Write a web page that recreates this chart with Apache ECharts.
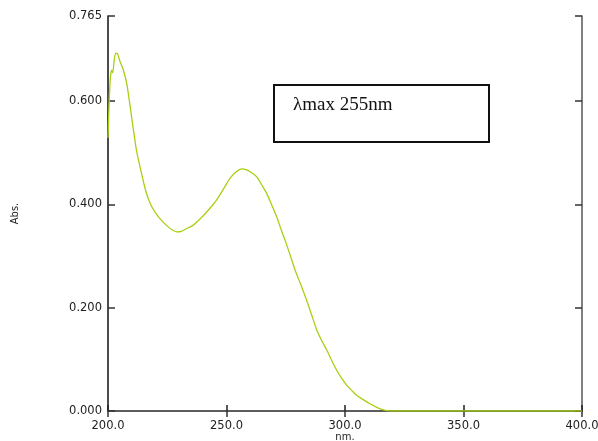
<!DOCTYPE html>
<html>
<head>
<meta charset="utf-8">
<script src="https://cdn.jsdelivr.net/npm/echarts@6/dist/echarts.min.js"></script>
<style>
  html, body { margin: 0; padding: 0; background: #fff; }
  #main { width: 598px; height: 441px; }
</style>
</head>
<body>
<div id="main"></div>
<script>
// 波长 (nm) 与吸光度
var wavelength = [200, 200.5, 201, 201.5, 202, 202.5, 203.2, 204, 205, 206.5, 208, 210, 212, 214, 216, 218, 220, 222,
  224.8, 227, 229, 231, 233, 236, 238.8, 241, 244, 246, 249, 251.5, 254, 256.5, 258.5, 260.5, 262.7, 265, 267, 269,
  271.2, 273, 275, 277, 279, 281.5, 284, 286, 288, 290, 292.3, 294.5, 296.5, 298.5, 300.7, 303, 305, 308, 310.5,
  313, 315.5, 319, 340, 400];
var absorbance = [0.529, 0.600, 0.645, 0.660, 0.655, 0.675, 0.693, 0.692, 0.678, 0.660, 0.632, 0.568, 0.505, 0.463,
  0.425, 0.400, 0.384, 0.372, 0.359, 0.351, 0.347, 0.348, 0.353, 0.360, 0.372, 0.382, 0.398, 0.410, 0.432, 0.451,
  0.463, 0.469, 0.467, 0.462, 0.454, 0.437, 0.421, 0.400, 0.376, 0.352, 0.327, 0.300, 0.272, 0.243, 0.212, 0.185,
  0.158, 0.138, 0.118, 0.097, 0.079, 0.064, 0.050, 0.039, 0.030, 0.021, 0.014, 0.008, 0.003, 0.000, 0.000, 0.000];

var xTicks = { min: 200, max: 400, interval: 50 };
var yTicks = { min: 0, max: 0.765, interval: 0.2 };
var noteText = 'λmax 255nm';

var dataE = [];
for (var i = 0; i < wavelength.length; i++) {
  dataE.push([wavelength[i], absorbance[i]]);
}

var myChart = echarts.init(document.getElementById('main'));
var labelFont = { color: '#222', fontFamily: 'DejaVu Sans', fontSize: 11.5 };

var option = {
  backgroundColor: '#fff',
  animation: false,
  grid: { left: 108, right: 16, top: 16, bottom: 30, outerBoundsMode: 'none', containLabel: false },
  xAxis: [{
    type: 'value',
    position: 'bottom',
    min: xTicks.min, max: xTicks.max, interval: xTicks.interval,
    name: 'nm.',
    nameLocation: 'middle',
    nameGap: 21,
    nameMoveOverlap: false,
    nameTextStyle: { color: '#222', fontFamily: 'DejaVu Sans', fontSize: 10, lineHeight: 10 },
    axisLine: { lineStyle: { color: '#444', width: 1.5 } },
    axisTick: { inside: true, length: 6, lineStyle: { color: '#222', width: 1.5 } },
    axisLabel: Object.assign({ margin: 9, formatter: function (v) { return v.toFixed(1); } }, labelFont),
    splitLine: { show: false }
  }, {
    type: 'value',
    position: 'top',
    min: xTicks.min, max: xTicks.max, interval: xTicks.interval,
    axisLine: { lineStyle: { color: '#555', width: 1.5 } },
    axisTick: { inside: true, length: 6, lineStyle: { color: '#333', width: 1.5 } },
    axisLabel: { show: false },
    splitLine: { show: false }
  }],
  yAxis: [{
    type: 'value',
    position: 'left',
    min: yTicks.min, max: yTicks.max, interval: yTicks.interval,
    name: 'Abs.',
    nameLocation: 'middle',
    nameGap: 88,
    nameRotate: 90,
    nameMoveOverlap: false,
    nameTextStyle: { color: '#222', fontFamily: 'DejaVu Sans', fontSize: 10 },
    axisLine: { lineStyle: { color: '#111', width: 1.5 } },
    axisTick: { inside: true, length: 7, lineStyle: { color: '#333', width: 1.5 } },
    axisLabel: Object.assign({ margin: 6, formatter: function (v) { return v.toFixed(3); } }, labelFont),
    splitLine: { show: false }
  }, {
    type: 'value',
    position: 'right',
    min: yTicks.min, max: yTicks.max, interval: yTicks.interval,
    axisLine: { lineStyle: { color: '#555', width: 1.5 } },
    axisTick: { inside: true, length: 7, lineStyle: { color: '#333', width: 1.5 } },
    axisLabel: { show: false },
    splitLine: { show: false }
  }],
  series: [{
    type: 'line',
    data: dataE,
    showSymbol: false,
    smooth: 0.2,
    lineStyle: { color: '#a6d010', width: 1.3 },
    z: 1
  }],
  graphic: [{
    type: 'rect',
    left: 273, top: 84,
    shape: { width: 215, height: 57 },
    style: { fill: '#fff', stroke: '#111', lineWidth: 2 }
  }, {
    type: 'text',
    left: 293, top: 96,
    style: { text: noteText, fill: '#111', font: '19px "Liberation Serif", serif' }
  }]
};
myChart.setOption(option, true);
</script>
</body>
</html>
